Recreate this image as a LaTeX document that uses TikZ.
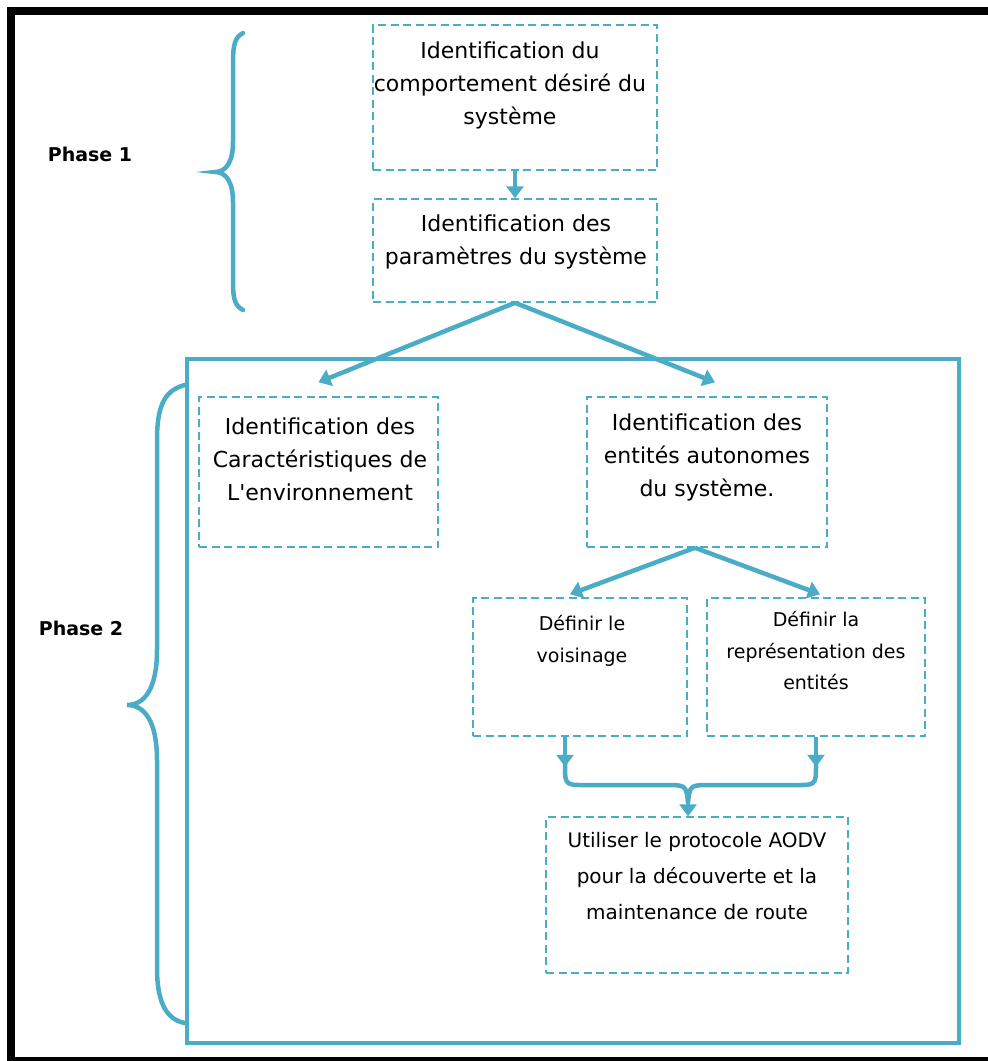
\documentclass[tikz,border=0pt]{standalone}
\usepackage{fontspec}
\setmainfont{DejaVu Sans}[Ligatures=TeXOff]
\usetikzlibrary{arrows.meta}
\definecolor{aqua}{HTML}{4BACC6}
\begin{document}
\begin{tikzpicture}[x=1pt,y=-1pt,
  stepbox/.style={draw=aqua, line width=1.5pt, dash pattern=on 8pt off 4.5pt, inner sep=0pt},
  txt/.style={align=center, inner sep=0pt, font=\fontsize{22}{33}\selectfont},
  txtsmall/.style={align=center, inner sep=0pt, font=\fontsize{19}{31.5}\selectfont},
  txtlast/.style={align=center, inner sep=0pt, font=\fontsize{20}{36}\selectfont},
  phase/.style={inner sep=0pt, font=\bfseries\fontsize{19}{23}\selectfont},
  conn/.style={draw=aqua, line width=4.5pt, -{Triangle[length=12pt,width=17pt]}},
  link/.style={draw=aqua, line width=4.5pt},
  brace/.style={draw=aqua, line width=4.5pt, line cap=round}
]
\useasboundingbox (0,0) rectangle (988,1061);
\clip (0,0) rectangle (988,1061);
\fill[white] (0,0) rectangle (988,1061);

% outer black frame
\draw[line width=8pt] (11,11) rectangle (1000,1061);

% phase 2 enclosure
\draw[draw=aqua, line width=4.5pt] (187,359) rectangle (959,1043);

% boxes
\node[stepbox, minimum width=284pt, minimum height=145pt] (boxA) at (515,97.5) {};
\node[stepbox, minimum width=284pt, minimum height=103pt] (boxB) at (515,250.5) {};
\node[stepbox, minimum width=239pt, minimum height=150pt] (boxC) at (318.5,472) {};
\node[stepbox, minimum width=240pt, minimum height=150pt] (boxD) at (707,472) {};
\node[stepbox, minimum width=214pt, minimum height=138pt] (boxE) at (580,667) {};
\node[stepbox, minimum width=218pt, minimum height=138pt] (boxF) at (816,667) {};
\node[stepbox, minimum width=302pt, minimum height=156pt] (boxG) at (697,895) {};

% box texts
\node[txt] (tA) at (510,85) {Identification du\\comportement désiré du\\système};
\node[txt] (tB) at (516,242) {Identification des\\paramètres du système};
\node[txt] (tC) at (320,459) {Identification des\\Caractéristiques de\\L'environnement};
\node[txt] (tD) at (707,457) {Identification des\\entités autonomes\\du système.};
\node[txtsmall] (tE) at (582,641) {Définir le\\voisinage};
\node[txtsmall] (tF) at (816,651) {Définir la\\représentation des\\entités};
\node[txtlast] (tG) at (697,876) {Utiliser le protocole AODV\\pour la découverte et la\\maintenance de route};

% phase labels
\node[phase] (p1) at (90,154) {Phase 1};
\node[phase] (p2) at (81,628) {Phase 2};

% connectors
\draw[conn] (boxA) -- (boxB);
\draw[conn] (boxB.south) -- ([yshift=14pt]boxC.north);
\draw[conn] (boxB.south) -- ([xshift=8pt,yshift=14pt]boxD.north);
\draw[conn] ([xshift=-12pt]boxD.south) -- ([xshift=-10pt,yshift=3pt]boxE.north);
\draw[conn] ([xshift=-12pt]boxD.south) -- ([xshift=4pt,yshift=3pt]boxF.north);

% merging connector into the last box
\coordinate (legE) at ([xshift=-15pt]boxE.south);
\coordinate (legF) at (boxF.south);
\coordinate (apex) at ([xshift=-9pt]boxG.north);
\draw[conn] (legE) -- ++(0,30);
\draw[conn] (legF) -- ++(0,30);
\draw[link] ([yshift=-22pt]legE) -- ++(0,6) .. controls ++(0,22) and (565,785) .. (592,785)
  -- (664,785) .. controls (686,785) .. (688,802);
\draw[link] ([yshift=-22pt]legF) -- ++(0,6) .. controls ++(0,22) and (816,785) .. (789,785)
  -- (712,785) .. controls (690,785) .. (688,802);
\draw[conn] (688,798) -- (apex);

% braces
\draw[brace] (243,33) .. controls (235,37) and (233,45) .. (233,62) -- (233,142)
  .. controls (233,162) and (226,172) .. (215,172)
  .. controls (226,172) and (233,182) .. (233,202) -- (233,282)
  .. controls (233,299) and (235,306) .. (243,310);
\draw[brace] (185,385) .. controls (165,390) and (157,405) .. (157,440) -- (157,650)
  .. controls (157,688) and (145,705) .. (127,705)
  .. controls (145,705) and (157,722) .. (157,760) -- (157,968)
  .. controls (157,1005) and (168,1020) .. (185,1023);
\end{tikzpicture}
\end{document}
